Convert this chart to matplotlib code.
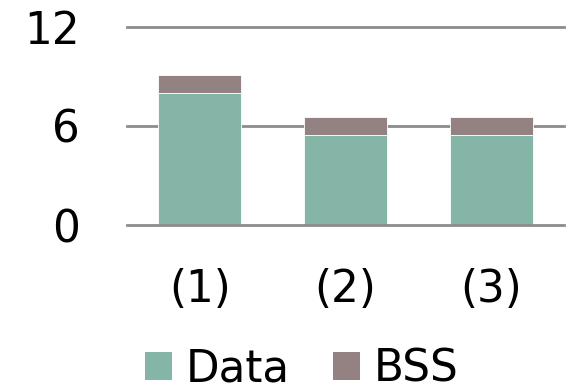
import matplotlib.pyplot as plt
from matplotlib.patches import Patch

categories = ["(1)", "(2)", "(3)"]
data_vals = [8.0, 5.42, 5.45]
bss_vals = [1.07, 1.09, 1.09]
yticks = [0, 6, 12]

data_color = "#84b5a6"
bss_color = "#948283"
grid_color = "#8c8c8c"

plt.rcParams['font.family'] = ['DejaVu Sans']

fig = plt.figure(figsize=(5.69, 3.9), dpi=100)
ax = fig.add_axes([0.2232, 0.423, 0.768, 0.509])

x = range(len(categories))
ax.bar(x, data_vals, width=0.57, color=data_color, edgecolor="white", linewidth=0.6, zorder=3)
ax.bar(x, bss_vals, bottom=data_vals, width=0.57, color=bss_color, edgecolor="white",
       linewidth=0.6, zorder=3)

ax.set_ylim(0, 12)
ax.set_xlim(-0.5, 2.5)
ax.set_yticks(yticks)
ax.set_xticks(list(x))
ax.set_xticklabels(categories)
for y in yticks:
    ax.axhline(y, color=grid_color, linewidth=2, zorder=1 if y else 4, clip_on=False)

for s in ax.spines.values():
    s.set_visible(False)
ax.tick_params(axis="both", length=0, labelsize=31.5)
ax.tick_params(axis="y", pad=34)
ax.tick_params(axis="x", pad=31)

handles = [Patch(facecolor=data_color, label="Data"), Patch(facecolor=bss_color, label="BSS")]
fig.legend(handles=handles, loc="center", bbox_to_anchor=(0.53, 0.054), ncol=2, frameon=False,
           fontsize=31.5, handlelength=0.62, handleheight=0.62, handletextpad=0.3,
           columnspacing=1.0, borderpad=0)

fig.savefig("out.png", dpi=100)
